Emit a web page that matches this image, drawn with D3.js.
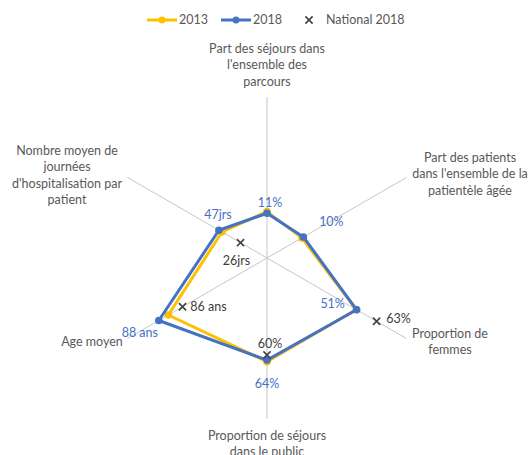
<!DOCTYPE html>
<html>
<head>
<meta charset="utf-8">
<title>Radar chart</title>
<script type="text/javascript" src="https://d3js.org/d3.v7.js"></script>
<style>
    * { margin: 0; padding: 0; }
    body { background: #fff; }
    #chart-container { width: 528px; height: 455px; }
    text { font-family: Lato, "Liberation Sans", sans-serif; }
</style>
</head>
<body>
<div id="chart-container"></div>
<script type="text/javascript">

    // axes du radar (sens horaire, depuis le haut)
    const categories = [
        ["Part des séjours dans", "l'ensemble des", "parcours"],
        ["Part des patients", "dans l'ensemble de la", "patientèle âgée"],
        ["Proportion de", "femmes"],
        ["Proportion de séjours", "dans le public"],
        ["Age moyen"],
        ["Nombre moyen de", "journées", "d'hospitalisation par", "patient"]
    ];

    // valeurs normalisées (part du rayon)
    const values2013 = [0.288, 0.250, 0.640, 0.644, 0.708, 0.323];
    const values2018 = [0.278, 0.261, 0.643, 0.634, 0.776, 0.345];
    const national2018 = [null, null, 0.786, 0.602, 0.606, 0.190];

    // étiquettes de données
    const labels2018 = ["11%", "10%", "51%", "64%", "88 ans", "47jrs"];
    const labelsNational = [null, null, "63%", "60%", "86 ans", "26jrs"];

    const seriesNames = ["2013", "2018", "National 2018"];

    const width = 528, height = 455;
    const cx = 267, cy = 258, R = 161;

    const colors = { y2013: "#FFC000", y2018: "#4472C4", nat: "#404040", text: "#595959", axis: "#C6C6C6" };

    const svg = d3.select("#chart-container").append("svg")
        .attr("width", width).attr("height", height);

    const rScale = d3.scaleLinear().domain([0, 1]).range([0, R]);
    const angle = d3.scaleLinear().domain([0, categories.length]).range([0, 2 * Math.PI]);

    function pt(i, v) {
        const a = angle(i), r = rScale(v);
        return [cx + r * Math.sin(a), cy - r * Math.cos(a)];
    }

    // rayons
    svg.append("g").selectAll("line")
        .data(categories)
        .join("line")
        .attr("x1", cx).attr("y1", cy)
        .attr("x2", (d, i) => pt(i, 1)[0])
        .attr("y2", (d, i) => pt(i, 1)[1])
        .attr("stroke", colors.axis)
        .attr("stroke-width", 1);

    // libellés des axes
    const catPos = [
        { x: 267, y: 53, anchor: "middle" },
        { x: 470, y: 162, anchor: "middle" },
        { x: 450, y: 338, anchor: "middle" },
        { x: 267, y: 440, anchor: "middle" },
        { x: 92, y: 346, anchor: "middle" },
        { x: 67, y: 155, anchor: "middle" }
    ];
    const lineH = 16.3;
    const catG = svg.append("g").attr("fill", colors.text).style("font-size", "12.5px");
    categories.forEach((lines, i) => {
        const t = catG.append("text")
            .attr("x", catPos[i].x).attr("y", catPos[i].y)
            .attr("text-anchor", catPos[i].anchor);
        lines.forEach((l, k) => {
            t.append("tspan").attr("x", catPos[i].x).attr("dy", k === 0 ? 0 : lineH).text(l);
        });
    });

    // séries
    const line = d3.lineRadial()
        .angle((d, i) => angle(i))
        .radius(d => rScale(d))
        .curve(d3.curveLinearClosed);

    function drawSeries(vals, color) {
        const g = svg.append("g");
        g.append("path")
            .attr("transform", `translate(${cx},${cy})`)
            .attr("d", line(vals))
            .attr("fill", "none")
            .attr("stroke", color)
            .attr("stroke-width", 3)
            .attr("stroke-linejoin", "round");
        g.selectAll("circle")
            .data(vals)
            .join("circle")
            .attr("cx", (d, i) => pt(i, d)[0])
            .attr("cy", (d, i) => pt(i, d)[1])
            .attr("r", 3.8)
            .attr("fill", color);
    }
    drawSeries(values2013, colors.y2013);
    drawSeries(values2018, colors.y2018);

    // marqueurs national
    const xs = 3.6;
    const natG = svg.append("g").attr("stroke", colors.nat).attr("stroke-width", 1.6);
    national2018.forEach((v, i) => {
        if (v === null) return;
        const [x, y] = pt(i, v);
        natG.append("path")
            .attr("d", `M${x - xs},${y - xs}L${x + xs},${y + xs}M${x - xs},${y + xs}L${x + xs},${y - xs}`);
    });

    // étiquettes de données
    const off2018 = [[3, -11], [28, -15], [-24, -6], [0, 24], [-19, 12], [-1, -16]];
    const offNat = [null, null, [22, -3], [3, -11], [26, 0], [-4, 18]];
    const lblG = svg.append("g").style("font-size", "12.5px").attr("text-anchor", "middle");
    values2018.forEach((v, i) => {
        const [x, y] = pt(i, v);
        lblG.append("text")
            .attr("x", x + off2018[i][0]).attr("y", y + off2018[i][1])
            .attr("dy", "0.35em")
            .attr("fill", colors.y2018)
            .text(labels2018[i]);
    });
    national2018.forEach((v, i) => {
        if (v === null) return;
        const [x, y] = pt(i, v);
        lblG.append("text")
            .attr("x", x + offNat[i][0]).attr("y", y + offNat[i][1])
            .attr("dy", "0.35em")
            .attr("fill", colors.nat)
            .text(labelsNational[i]);
    });

    // légende
    const leg = svg.append("g").style("font-size", "12.5px").attr("fill", colors.text);
    const legY = 20;
    [[147, colors.y2013, seriesNames[0]], [221, colors.y2018, seriesNames[1]]].forEach(([x, c, name]) => {
        leg.append("line").attr("x1", x).attr("x2", x + 30).attr("y1", legY).attr("y2", legY)
            .attr("stroke", c).attr("stroke-width", 3);
        leg.append("circle").attr("cx", x + 15).attr("cy", legY).attr("r", 3.5).attr("fill", c);
        leg.append("text").attr("x", x + 32).attr("y", legY).attr("dy", "0.35em").text(name);
    });
    leg.append("path")
        .attr("d", `M${309 - xs},${legY - xs}L${309 + xs},${legY + xs}M${309 - xs},${legY + xs}L${309 + xs},${legY - xs}`)
        .attr("stroke", colors.nat).attr("stroke-width", 1.6);
    leg.append("text").attr("x", 326).attr("y", legY).attr("dy", "0.35em").text(seriesNames[2]);

</script>
</body>
</html>
